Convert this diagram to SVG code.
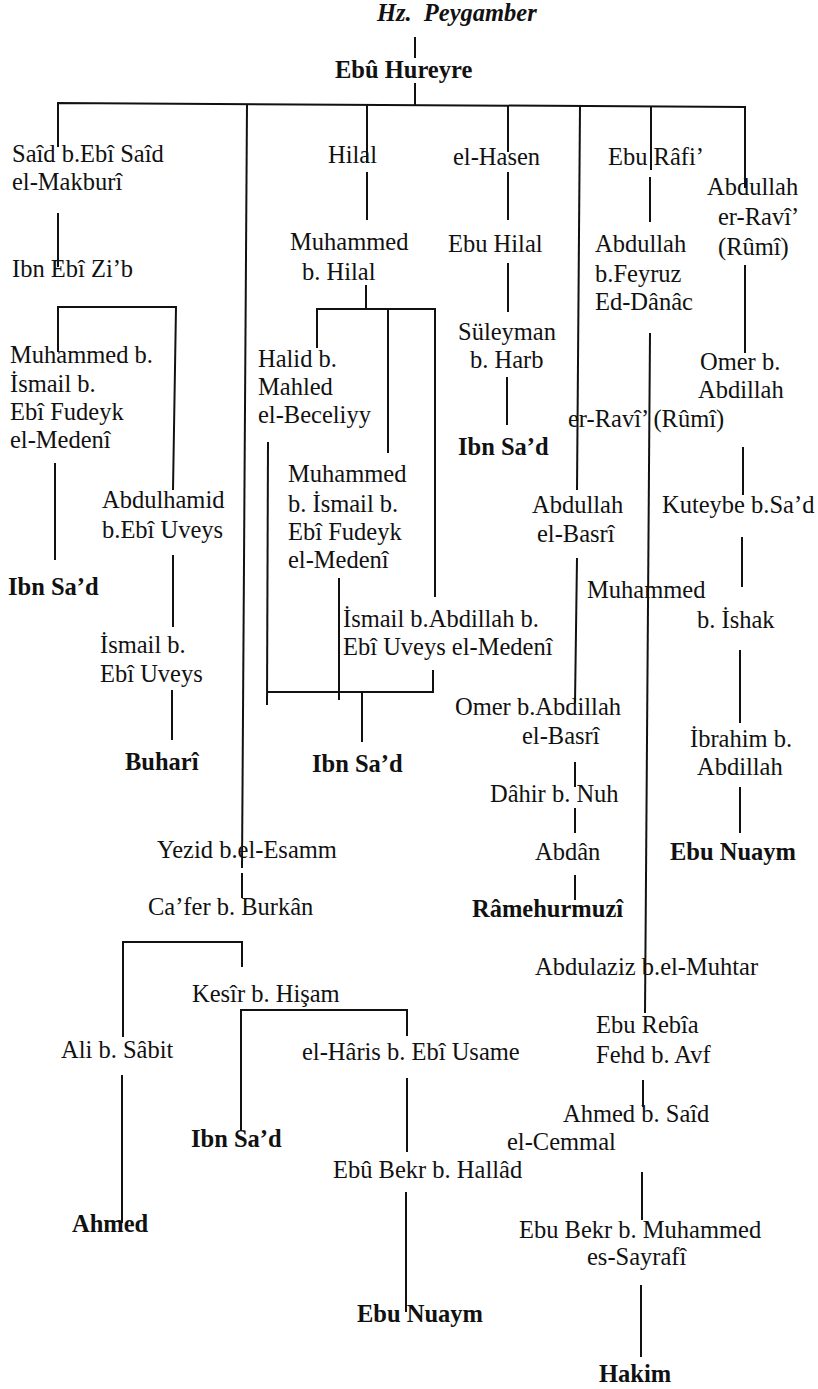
<svg xmlns="http://www.w3.org/2000/svg" width="818" height="1389" viewBox="0 0 818 1389">
<style>
text{font-family:"Liberation Serif","Times New Roman",serif;font-size:24.5px;fill:#111}
.b{font-weight:bold}
.t{font-weight:bold;font-style:italic;word-spacing:6px}
#connectors line,#connectors polyline{stroke:#111;stroke-width:2;fill:none}
</style>
<rect width="818" height="1389" fill="#fff"/>
<g id="connectors">
<line x1="415" y1="37" x2="415" y2="58"/>
<line x1="415" y1="83" x2="415" y2="105"/>
<polyline points="58,147 58,103 745,107 745,188"/>
<line x1="247" y1="104" x2="242" y2="868"/>
<line x1="367" y1="104" x2="367" y2="163"/>
<line x1="508" y1="106" x2="508" y2="152"/>
<line x1="580" y1="106" x2="577" y2="490"/>
<line x1="651" y1="106" x2="651" y2="170"/>
<line x1="58" y1="213" x2="58" y2="267"/>
<polyline points="58,352 58,307 176,307 173,490"/>
<line x1="367" y1="172" x2="367" y2="220"/>
<line x1="366" y1="285" x2="366" y2="309"/>
<polyline points="317,348 317,309 435,309 435,597"/>
<line x1="388" y1="309" x2="388" y2="453"/>
<line x1="508" y1="172" x2="508" y2="220"/>
<line x1="508" y1="263" x2="508" y2="312"/>
<line x1="507" y1="377" x2="507" y2="425"/>
<line x1="650" y1="177" x2="650" y2="222"/>
<line x1="745" y1="265" x2="745" y2="353"/>
<line x1="650" y1="333" x2="645" y2="1013"/>
<line x1="743" y1="447" x2="743" y2="495"/>
<line x1="742" y1="537" x2="742" y2="587"/>
<line x1="577" y1="558" x2="575" y2="703"/>
<line x1="740" y1="650" x2="740" y2="723"/>
<line x1="740" y1="787" x2="740" y2="833"/>
<line x1="575" y1="762" x2="575" y2="787"/>
<line x1="575" y1="808" x2="575" y2="833"/>
<line x1="575" y1="875" x2="575" y2="900"/>
<line x1="55" y1="463" x2="55" y2="560"/>
<line x1="173" y1="555" x2="173" y2="627"/>
<line x1="172" y1="690" x2="172" y2="740"/>
<line x1="268" y1="442" x2="267" y2="705"/>
<line x1="339" y1="578" x2="339" y2="700"/>
<polyline points="267,692 433,692 433,670"/>
<line x1="362" y1="692" x2="362" y2="742"/>
<line x1="242" y1="873" x2="242" y2="898"/>
<polyline points="123,1037 123,942 242,942 242,967"/>
<polyline points="241,1130 241,1010 407,1010 407,1036"/>
<line x1="122" y1="1075" x2="122" y2="1223"/>
<line x1="407" y1="1078" x2="407" y2="1152"/>
<line x1="406" y1="1192" x2="406" y2="1312"/>
<line x1="643" y1="1080" x2="643" y2="1107"/>
<line x1="642" y1="1172" x2="642" y2="1220"/>
<line x1="641" y1="1285" x2="641" y2="1357"/>
</g>
<g id="n-peygamber"><text class="t" x="377" y="21">Hz. Peygamber</text></g>
<g id="n-ebuhureyre"><text class="b" x="335" y="78">Ebû Hureyre</text></g>
<g id="n-said"><text x="12" y="162">Saîd b.Ebî Saîd</text><text x="12" y="190">el-Makburî</text></g>
<g id="n-ibnebizib"><text x="12" y="277">Ibn Ebî Zi’b</text></g>
<g id="n-muhammed-ismail-1"><text x="10" y="363">Muhammed b.</text><text x="10" y="392">İsmail b.</text><text x="10" y="420">Ebî Fudeyk</text><text x="10" y="448">el-Medenî</text></g>
<g id="n-ibnsad-1"><text class="b" x="8" y="595">Ibn Sa’d</text></g>
<g id="n-abdulhamid"><text x="102" y="508">Abdulhamid</text><text x="102" y="538">b.Ebî Uveys</text></g>
<g id="n-ismail-uveys"><text x="100" y="653">İsmail b.</text><text x="100" y="682">Ebî Uveys</text></g>
<g id="n-buhari"><text class="b" x="125" y="770">Buharî</text></g>
<g id="n-hilal"><text x="328" y="163">Hilal</text></g>
<g id="n-muhammed-hilal"><text x="290" y="250">Muhammed</text><text x="302" y="280">b. Hilal</text></g>
<g id="n-halid"><text x="258" y="367">Halid b.</text><text x="258" y="395">Mahled</text><text x="258" y="423">el-Beceliyy</text></g>
<g id="n-muhammed-ismail-2"><text x="288" y="482">Muhammed</text><text x="288" y="512">b. İsmail b.</text><text x="288" y="540">Ebî Fudeyk</text><text x="288" y="568">el-Medenî</text></g>
<g id="n-ismail-abdillah"><text x="343" y="627">İsmail b.Abdillah b.</text><text x="343" y="655">Ebî Uveys el-Medenî</text></g>
<g id="n-ibnsad-2"><text class="b" x="312" y="772">Ibn Sa’d</text></g>
<g id="n-elhasen"><text x="453" y="165">el-Hasen</text></g>
<g id="n-ebuhilal"><text x="448" y="252">Ebu Hilal</text></g>
<g id="n-suleyman"><text x="458" y="340">Süleyman</text><text x="470" y="368">b. Harb</text></g>
<g id="n-ibnsad-3"><text class="b" x="458" y="455">Ibn Sa’d</text></g>
<g id="n-eburafi"><text x="608" y="165">Ebu Râfi’</text></g>
<g id="n-abdullah-feyruz"><text x="595" y="252">Abdullah</text><text x="595" y="282">b.Feyruz</text><text x="595" y="310">Ed-Dânâc</text></g>
<g id="n-abdullah-ravi"><text x="707" y="195">Abdullah</text><text x="718" y="225">er-Ravî’</text><text x="718" y="255">(Rûmî)</text></g>
<g id="n-omer-abdillah"><text x="700" y="370">Omer b.</text><text x="698" y="398">Abdillah</text></g>
<g id="n-erravi"><text x="568" y="427">er-Ravî’ (Rûmî)</text></g>
<g id="n-kuteybe"><text x="662" y="513">Kuteybe b.Sa’d</text></g>
<g id="n-abdullah-basri"><text x="532" y="513">Abdullah</text><text x="537" y="542">el-Basrî</text></g>
<g id="n-muhammed-ishak"><text x="587" y="598">Muhammed</text><text x="697" y="628">b. İshak</text></g>
<g id="n-ibrahim"><text x="690" y="747">İbrahim b.</text><text x="697" y="775">Abdillah</text></g>
<g id="n-ebunuaym-1"><text class="b" x="670" y="860">Ebu Nuaym</text></g>
<g id="n-omer-basri"><text x="455" y="715">Omer b.Abdillah</text><text x="522" y="744">el-Basrî</text></g>
<g id="n-dahir"><text x="490" y="802">Dâhir b. Nuh</text></g>
<g id="n-abdan"><text x="535" y="860">Abdân</text></g>
<g id="n-ramehurmuzi"><text class="b" x="472" y="917">Râmehurmuzî</text></g>
<g id="n-yezid"><text x="157" y="858">Yezid b.el-Esamm</text></g>
<g id="n-cafer"><text x="148" y="915">Ca’fer b. Burkân</text></g>
<g id="n-kesir"><text x="192" y="1002">Kesîr b. Hişam</text></g>
<g id="n-ali"><text x="61" y="1058">Ali b. Sâbit</text></g>
<g id="n-ahmed"><text class="b" x="72" y="1232">Ahmed</text></g>
<g id="n-haris"><text x="302" y="1060">el-Hâris b. Ebî Usame</text></g>
<g id="n-ibnsad-4"><text class="b" x="191" y="1147">Ibn Sa’d</text></g>
<g id="n-ebubekr-hallad"><text x="333" y="1178">Ebû Bekr b. Hallâd</text></g>
<g id="n-ebunuaym-2"><text class="b" x="357" y="1322">Ebu Nuaym</text></g>
<g id="n-abdulaziz"><text x="535" y="975">Abdulaziz b.el-Muhtar</text></g>
<g id="n-eburebia"><text x="596" y="1033">Ebu Rebîa</text><text x="596" y="1063">Fehd b. Avf</text></g>
<g id="n-ahmed-said"><text x="563" y="1122">Ahmed b. Saîd</text><text x="507" y="1150">el-Cemmal</text></g>
<g id="n-ebubekr-sayrafi"><text x="519" y="1238">Ebu Bekr b. Muhammed</text><text x="587" y="1265">es-Sayrafî</text></g>
<g id="n-hakim"><text class="b" x="599" y="1382">Hakim</text></g>
</svg>
